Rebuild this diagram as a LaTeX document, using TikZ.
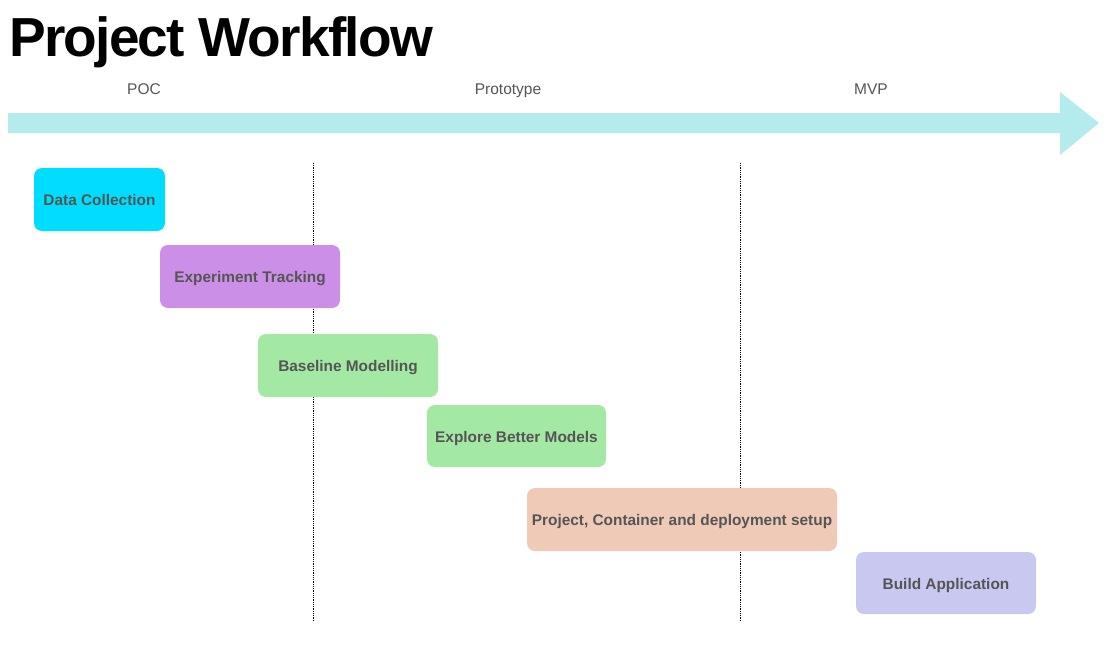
\documentclass[tikz,border=0pt]{standalone}
\usepackage{fontspec}
\setmainfont{Liberation Sans}
\begin{document}
\begin{tikzpicture}[x=1pt,y=-1pt,
  task/.style={rounded corners=8pt, inner sep=0pt, text=txtgray, text height=12pt, text depth=0pt, font=\fontsize{15.4}{17}\selectfont\bfseries},
  phase/.style={text=txtgray, font=\fontsize{15.5}{17}\selectfont, inner sep=0pt, anchor=base},
  divider/.style={densely dotted, line width=0.8pt, black}]
\definecolor{txtgray}{HTML}{555555}
\definecolor{arrowc}{HTML}{B4EBEC}
\definecolor{cyanbox}{HTML}{00DDFF}
\definecolor{purplebox}{HTML}{CC8FE8}
\definecolor{greenbox}{HTML}{A3E9A4}
\definecolor{peachbox}{HTML}{EFCBB7}
\definecolor{lavbox}{HTML}{C9C8F0}
\useasboundingbox[fill=white] (0,0) rectangle (1108,661);
% title
\node[anchor=base west, inner sep=0pt, font=\fontsize{55}{60}\selectfont\bfseries\addfontfeature{LetterSpace=-3.2}] (title) at (9,57) {Project Workflow};
% timeline arrow
\fill[arrowc] (8,113) -- (1060,113) -- (1060,92) -- (1099,123) -- (1060,155) -- (1060,133) -- (8,133) -- cycle;
% phases
\node[phase] (poc) at (144,95) {POC};
\node[phase] (proto) at (508,95) {Prototype};
\node[phase] (mvp) at (871,95) {MVP};
% dividers
\coordinate (d1t) at (313,163); \coordinate (d1b) at (313,621);
\coordinate (d2t) at (740,163); \coordinate (d2b) at (740,621);
\draw[divider] (d1t) -- (d1b);
\draw[divider] (d2t) -- (d2b);
% tasks
\node[task, fill=cyanbox, minimum width=131pt, minimum height=63pt] (dc) at (99.5,199.5) {Data Collection};
\node[task, fill=purplebox, minimum width=180pt, minimum height=63pt] (et) at (250,276.5) {Experiment Tracking};
\node[task, fill=greenbox, minimum width=180pt, minimum height=63pt] (bm) at (348,365.5) {Baseline Modelling};
\node[task, fill=greenbox, minimum width=179pt, minimum height=62pt] (eb) at (516.5,436) {Explore Better Models};
\node[task, fill=peachbox, minimum width=310pt, minimum height=63pt] (pc) at (682,519.5) {Project, Container and deployment setup};
\node[task, fill=lavbox, minimum width=180pt, minimum height=62pt] (ba) at (946,583) {Build Application};
\end{tikzpicture}
\end{document}
